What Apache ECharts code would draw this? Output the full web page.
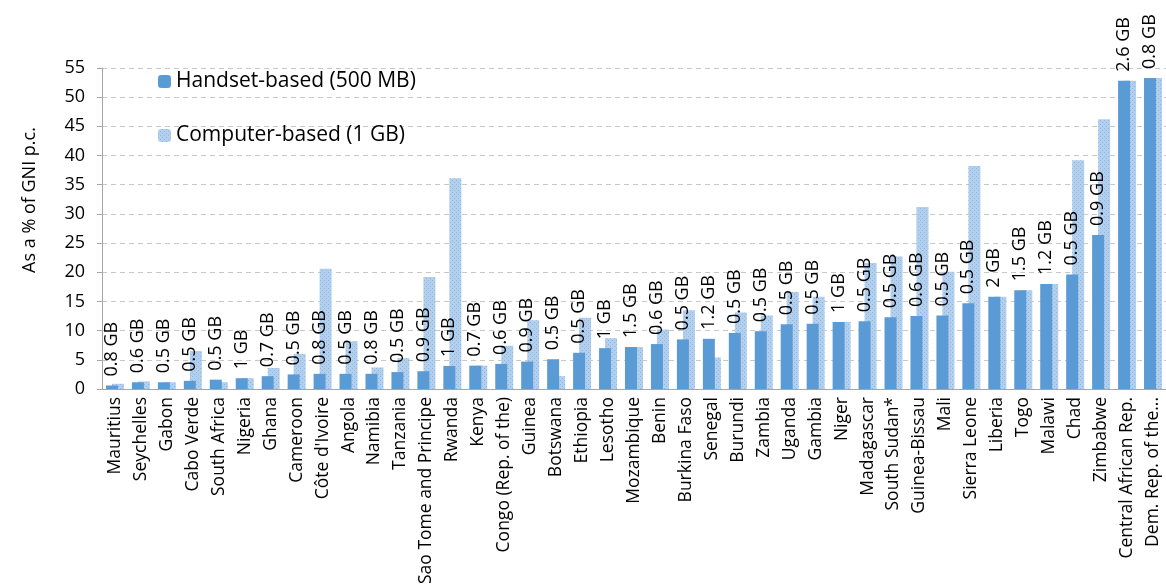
<!DOCTYPE html>
<html>
<head>
<meta charset="utf-8">
<script src="https://cdn.jsdelivr.net/npm/echarts@6/dist/echarts.min.js"></script>
<style>
  html, body { margin: 0; padding: 0; background: #fff; }
  #chart { width: 1166px; height: 587px; }
</style>
</head>
<body>
<div id="chart"></div>
<script>
const countries = ['Mauritius', 'Seychelles', 'Gabon', 'Cabo Verde', 'South Africa', 'Nigeria', 'Ghana', 'Cameroon', "Côte d'Ivoire", 'Angola', 'Namibia', 'Tanzania', 'Sao Tome and Principe', 'Rwanda', 'Kenya', 'Congo (Rep. of the)', 'Guinea', 'Botswana', 'Ethiopia', 'Lesotho', 'Mozambique', 'Benin', 'Burkina Faso', 'Senegal', 'Burundi', 'Zambia', 'Uganda', 'Gambia', 'Niger', 'Madagascar', 'South Sudan*', 'Guinea-Bissau', 'Mali', 'Sierra Leone', 'Liberia', 'Togo', 'Malawi', 'Chad', 'Zimbabwe', 'Central African Rep.', 'Dem. Rep. of the...']
const handset = [0.6, 1.15, 1.15, 1.4, 1.6, 1.85, 2.2, 2.5, 2.6, 2.6, 2.6, 2.9, 3.05, 3.95, 4.0, 4.3, 4.7, 5.1, 6.2, 7.0, 7.2, 7.7, 8.5, 8.6, 9.6, 9.9, 11.1, 11.2, 11.5, 11.6, 12.3, 12.5, 12.6, 14.7, 15.8, 16.9, 18.0, 19.6, 26.4, 52.8, 53.3]
const computer = [0.9, 1.3, 1.15, 6.5, 1.15, 1.85, 3.6, 6.0, 20.6, 8.2, 3.7, 5.3, 19.2, 36.1, 4.0, 7.4, 11.8, 2.2, 12.2, 8.7, 7.2, 10.2, 13.5, 5.4, 13.1, 12.6, 16.6, 15.8, 11.5, 21.6, 22.7, 31.2, 20.1, 38.2, 15.8, 16.9, 18.0, 39.2, 46.2, 52.8, 53.3]
const volumes = ['0.8 GB', '0.6 GB', '0.5 GB', '0.5 GB', '0.5 GB', '1 GB', '0.7 GB', '0.5 GB', '0.8 GB', '0.5 GB', '0.8 GB', '0.5 GB', '0.9 GB', '1 GB', '0.7 GB', '0.6 GB', '0.9 GB', '0.5 GB', '0.5 GB', '1 GB', '1.5 GB', '0.6 GB', '0.5 GB', '1.2 GB', '0.5 GB', '0.5 GB', '0.5 GB', '0.5 GB', '1 GB', '0.5 GB', '0.5 GB', '0.6 GB', '0.5 GB', '0.5 GB', '2 GB', '1.5 GB', '1.2 GB', '0.5 GB', '0.9 GB', '2.6 GB', '0.8 GB']
const seriesNames = ['Handset-based (500 MB)', 'Computer-based (1 GB)']
const yTicks = { min: 0, max: 55, interval: 5 }

const font = 'Open Sans'

// dotted fill like the excel pattern
function dotPattern() {
  const c = document.createElement('canvas')
  c.width = 4
  c.height = 4
  const ctx = c.getContext('2d')
  ctx.fillStyle = '#b2cfee'
  ctx.fillRect(0, 0, 4, 4)
  ctx.fillStyle = '#8fb6e2'
  ctx.fillRect(0, 0, 1, 1)
  ctx.fillRect(2, 2, 1, 1)
  return { image: c, repeat: 'repeat' }
}

const chart = echarts.init(document.getElementById('chart'))
chart.setOption({
  animation: false,
  textStyle: { fontFamily: font },
  grid: { left: 102, right: -6, top: 68, bottom: 197 },
  legend: {
    orient: 'vertical',
    left: 153,
    top: 66,
    itemWidth: 13,
    itemHeight: 13,
    itemGap: 33,
    textStyle: { fontSize: 21, color: '#000', fontFamily: font },
    data: seriesNames
  },
  graphic: [{
    type: 'text',
    x: 30,
    y: 200,
    rotation: Math.PI / 2,
    style: {
      text: 'As a % of GNI p.c.',
      font: '18px "Open Sans"',
      fill: '#000',
      align: 'center',
      verticalAlign: 'middle'
    }
  }],
  xAxis: {
    type: 'category',
    data: countries,
    axisLine: { lineStyle: { color: '#a6a6a6' } },
    axisTick: { alignWithLabel: false, length: 5, lineStyle: { color: '#a6a6a6' } },
    axisLabel: { rotate: 90, fontSize: 17.5, color: '#000', margin: 8, interval: 0 }
  },
  yAxis: {
    type: 'value',
    min: yTicks.min,
    max: yTicks.max,
    interval: yTicks.interval,
    axisLine: { show: true, lineStyle: { color: '#a6a6a6' } },
    axisTick: { show: true, length: 5, lineStyle: { color: '#a6a6a6' } },
    axisLabel: { fontSize: 18, color: '#000', margin: 17 },
    splitLine: { lineStyle: { color: '#c8c8c8', type: [5, 4] } }
  },
  series: [{
    name: seriesNames[0],
    type: 'bar',
    data: handset,
    barWidth: 12,
    barGap: '-50%',
    z: 3,
    itemStyle: { color: '#5b9bd5' },
    label: {
      show: true,
      position: 'top',
      rotate: 90,
      align: 'left',
      verticalAlign: 'middle',
      distance: 9,
      fontSize: 18,
      color: '#000',
      formatter: p => volumes[p.dataIndex]
    }
  }, {
    name: seriesNames[1],
    type: 'bar',
    data: computer,
    barWidth: 12,
    z: 2,
    itemStyle: { color: dotPattern() }
  }]
})
</script>
</body>
</html>
